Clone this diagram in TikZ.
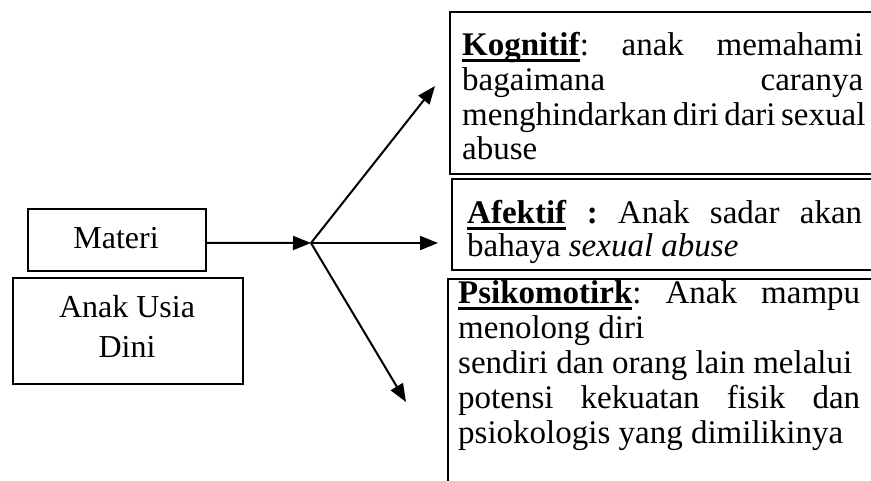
\documentclass[tikz,border=0pt]{standalone}
\usepackage{fontspec}
\setmainfont{Liberation Serif}
\usetikzlibrary{arrows.meta}
\newcommand{\thul}[1]{\setbox0\hbox{#1}\rlap{\rule[-6.5pt]{\wd0}{2.8pt}}\box0\relax}
\frenchspacing
\begin{document}
\begin{tikzpicture}[x=1pt,y=-1pt,
  box/.style={draw, line width=1.6pt, inner sep=0pt, anchor=north west},
  txt/.style={inner sep=0pt, anchor=base west, font=\fontsize{33}{35}\selectfont},
  ctxt/.style={inner sep=0pt, anchor=base, font=\fontsize{32}{35}\selectfont},
  arr/.style={-{Triangle[length=18pt,width=14pt]}, line width=2pt}]
\useasboundingbox (0,0) rectangle (871,480);
\clip (0,0) rectangle (871,480);
% boxes
\node[box, minimum width=178pt, minimum height=62pt] (materi) at (27,208) {};
\node[box, minimum width=230pt, minimum height=106pt] (anak) at (12,277) {};
\node[box, minimum width=470pt, minimum height=162pt] (kog) at (449,11) {};
\node[box, minimum width=470pt, minimum height=91pt] (afe) at (451,178) {};
\node[box, minimum width=470pt, minimum height=250pt] (psi) at (447,278) {};
% left texts
\node[ctxt] (tmat) at (116,248) {Materi};
\node[ctxt] (tan1) at (127,317) {Anak Usia};
\node[ctxt] (tan2) at (127,357) {Dini};
% kognitif
\node[txt] (k1) at (462,55) {\makebox[401pt][s]{\thul{\textbf{Kognitif}}: anak memahami}};
\node[txt] (k2) at (462,90) {\makebox[401pt][s]{bagaimana caranya}};
\node[txt] (k3) at (462,125) {\makebox[401pt][s]{menghindarkan diri dari sexual}};
\node[txt] (k4) at (462,159) {abuse};
% afektif
\node[txt] (a1) at (467,223) {\makebox[395pt][s]{\thul{\textbf{Afektif}} \textbf{:} Anak sadar akan}};
\node[txt] (a2) at (467,256) {bahaya \textit{sexual abuse}};
% psikomotorik
\node[txt] (p1) at (458,303) {\makebox[402pt][s]{\thul{\textbf{Psikomotirk}}: Anak mampu}};
\node[txt] (p2) at (458,338) {menolong diri};
\node[txt] (p3) at (458,373) {sendiri dan orang lain melalui};
\node[txt] (p4) at (458,408) {\makebox[402pt][s]{potensi kekuatan fisik dan}};
\node[txt] (p5) at (458,443) {psiokologis yang dimilikinya};
% connectors
\coordinate (hub) at (311,243);
\coordinate (tk) at (435,86);
\coordinate (ta) at (438,243);
\coordinate (tp) at (406,402);
\draw[arr] ([yshift=-3pt]materi.east) -- (hub);
\draw[arr] (hub) -- (tk);
\draw[arr] (hub) -- (ta);
\draw[arr] (hub) -- (tp);
\end{tikzpicture}
\end{document}
